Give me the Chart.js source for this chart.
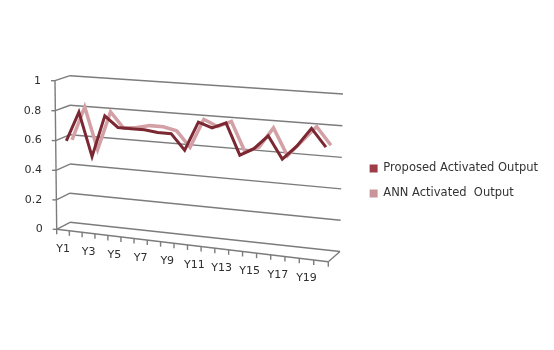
<!DOCTYPE html>
<html>
<head>
<meta charset="utf-8">
<script src="https://cdn.jsdelivr.net/npm/chart.js@4"></script>
<style>
  html, body { margin: 0; padding: 0; background: #fff; }
  canvas { display: block; }
</style>
</head>
<body>
<canvas id="outputChart" width="554" height="350"></canvas>
<script>
// Year categories and the two activated outputs
const categories = ["Y1", "Y2", "Y3", "Y4", "Y5", "Y6", "Y7", "Y8", "Y9", "Y10",
                    "Y11", "Y12", "Y13", "Y14", "Y15", "Y16", "Y17", "Y18", "Y19", "Y20"];
const proposedOutput = [0.59, 0.79, 0.50, 0.78, 0.71, 0.71, 0.71, 0.70, 0.70, 0.60,
                        0.79, 0.76, 0.80, 0.60, 0.65, 0.74, 0.60, 0.69, 0.81, 0.70];
const annOutput = [0.58, 0.81, 0.53, 0.79, 0.69, 0.70, 0.72, 0.72, 0.70, 0.60,
                   0.79, 0.75, 0.79, 0.60, 0.64, 0.77, 0.60, 0.70, 0.80, 0.69];
const yTicks = [0, 0.2, 0.4, 0.6, 0.8, 1];
const yTickLabels = ["0", "0.2", "0.4", "0.6", "0.8", "1"];

// Unit square -> quad (p00, p10, p11, p01) projective mapping
function homography(q) {
  const [x0, y0] = q[0], [x1, y1] = q[1], [x2, y2] = q[2], [x3, y3] = q[3];
  const dx1 = x1 - x2, dx2 = x3 - x2, dx3 = x0 - x1 + x2 - x3;
  const dy1 = y1 - y2, dy2 = y3 - y2, dy3 = y0 - y1 + y2 - y3;
  const den = dx1 * dy2 - dx2 * dy1;
  const g = (dx3 * dy2 - dx2 * dy3) / den;
  const h = (dx1 * dy3 - dx3 * dy1) / den;
  const a = x1 - x0 + g * x1, b = x3 - x0 + h * x3, c = x0;
  const d = y1 - y0 + g * y1, e = y3 - y0 + h * y3, f = y0;
  return (u, v) => {
    const w = g * u + h * v + 1;
    return [(a * u + b * v + c) / w, (d * u + e * v + f) / w];
  };
}

// back wall and front plane of the 3-D box
const backWall = homography([[70, 222.3], [340, 251.5], [343, 94], [70, 75.7]]);
const frontPlane = homography([[56.7, 229.3], [328.3, 261.7], [330, 102], [55, 80.7]]);

function project(u, v, depth) {
  const b = backWall(u, v), f = frontPlane(u, v);
  return [b[0] + (f[0] - b[0]) * depth, b[1] + (f[1] - b[1]) * depth];
}

function line(ctx, p, q) {
  ctx.beginPath();
  ctx.moveTo(p[0], p[1]);
  ctx.lineTo(q[0], q[1]);
  ctx.stroke();
}

const perspective = {
  id: 'perspective',
  // move every point from the flat chart area onto its depth row
  afterDatasetsUpdate(chart) {
    const area = chart.chartArea;
    chart.data.datasets.forEach((ds, i) => {
      chart.getDatasetMeta(i).data.forEach(pt => {
        const u = (pt.x - area.left) / (area.right - area.left);
        const v = (area.bottom - pt.y) / (area.bottom - area.top);
        const p = project(u, v, ds.depth);
        pt.x = p[0];
        pt.y = p[1];
      });
    });
  },
  // walls, floor, axes and tick labels
  beforeDatasetsDraw(chart) {
    const ctx = chart.ctx;
    const area = chart.chartArea;
    const yScale = chart.scales.y, xScale = chart.scales.x;
    const vOf = val => (area.bottom - yScale.getPixelForValue(val)) / (area.bottom - area.top);
    const uOf = px => (px - area.left) / (area.right - area.left);

    ctx.save();
    ctx.strokeStyle = '#7c7c7c';
    ctx.lineWidth = 1.4;

    yTicks.forEach(t => {
      const v = vOf(t);
      const fl = project(0, v, 1), bl = project(0, v, 0), br = project(1, v, 0);
      line(ctx, fl, bl);
      line(ctx, bl, br);
      line(ctx, [fl[0] - 4, fl[1]], fl);
    });

    // floor front and right edges, value axis
    line(ctx, project(0, 0, 1), project(1, 0, 1));
    line(ctx, project(1, 0, 1), project(1, 0, 0));
    line(ctx, project(0, 0, 1), project(0, 1, 1));

    // category tick marks
    const n = categories.length;
    for (let k = 0; k <= n; k++) {
      const p = project(k / n, 0, 1);
      line(ctx, p, [p[0], p[1] + 5]);
    }

    ctx.fillStyle = '#2e2e2e';
    ctx.font = '11px "DejaVu Sans"';
    ctx.textBaseline = 'middle';
    ctx.textAlign = 'right';
    yTicks.forEach((t, i) => {
      const p = project(0, vOf(t), 1);
      ctx.fillText(yTickLabels[i], p[0] - 14, p[1]);
    });

    ctx.textAlign = 'center';
    categories.forEach((c, i) => {
      if (i % 2) return;
      const p = project(uOf(xScale.getPixelForValue(i)), 0, 1);
      ctx.fillText(c, p[0], p[1] + 19);
    });
    ctx.restore();
  }
};

Chart.defaults.font.family = '"DejaVu Sans"';
Chart.defaults.font.size = 11;
Chart.defaults.color = '#333';

new Chart(document.getElementById('outputChart').getContext('2d'), {
  type: 'line',
  data: {
    labels: categories,
    datasets: [{
      label: 'Proposed Activated Output',
      data: proposedOutput,
      depth: 0.7,
      borderColor: '#7b2833',
      backgroundColor: '#9e3d48',
      borderWidth: 3,
      pointRadius: 0,
      tension: 0,
      clip: false
    }, {
      label: 'ANN Activated  Output',
      data: annOutput,
      depth: 0.3,
      borderColor: '#d3a0a6',
      backgroundColor: '#c9959b',
      borderWidth: 3.5,
      pointRadius: 0,
      tension: 0,
      clip: false
    }]
  },
  options: {
    responsive: false,
    devicePixelRatio: 1,
    animation: false,
    events: [],
    layout: { padding: { top: 42, bottom: 30, left: 10, right: 6 } },
    scales: {
      x: { display: false, offset: true },
      y: { display: false, min: 0, max: 1 }
    },
    plugins: {
      tooltip: { enabled: false },
      legend: {
        position: 'right',
        labels: {
          boxWidth: 8,
          boxHeight: 8,
          padding: 13.5,
          color: '#333',
          font: { size: 11.5 },
          generateLabels(chart) {
            const items = Chart.defaults.plugins.legend.labels.generateLabels(chart);
            items.forEach(it => { it.lineWidth = 0; it.strokeStyle = 'rgba(0,0,0,0)'; });
            return items;
          }
        }
      }
    }
  },
  plugins: [perspective]
});
</script>
</body>
</html>
